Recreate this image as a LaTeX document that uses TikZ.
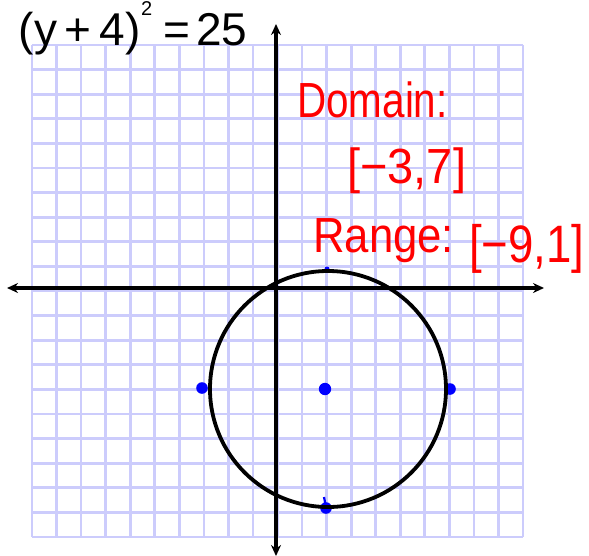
\documentclass[tikz,border=0pt]{standalone}
\usepackage{fontspec}
\setmainfont{Liberation Sans}
\usetikzlibrary{arrows.meta}
\definecolor{gridc}{RGB}{204,204,252}
\definecolor{redpen}{RGB}{255,0,0}
\definecolor{bluedot}{RGB}{0,0,255}
\begin{document}
\begin{tikzpicture}[x=1pt,y=-1pt,
  gridline/.style={draw=gridc,line width=2.7pt},
  axisline/.style={draw=black,line width=3.6pt,{Stealth[length=11pt,width=10pt]}-{Stealth[length=11pt,width=10pt]}},
  curve/.style={draw=black,line width=3.8pt},
  dot/.style={fill=bluedot},
  redtext/.style={text=redpen,inner sep=0pt,font=\fontsize{47}{47}\selectfont},
  blacktext/.style={text=black,inner sep=0pt,font=\fontsize{46}{46}\selectfont}]
\useasboundingbox (0,0) rectangle (589,555);
\clip (0,0) rectangle (589,555);
\fill[white] (0,0) rectangle (589,555);
% grid
\foreach \k in {0,...,20}{
  \draw[gridline] ({32+24.55*\k},45) -- ({32+24.55*\k},537);
  \draw[gridline] (32,{45+24.6*\k}) -- (523,{45+24.6*\k});
}
% axes
\coordinate (xl) at (7,288);
\coordinate (xr) at (544,288);
\coordinate (yt) at (276,24);
\coordinate (yb) at (276,556);
\draw[axisline] (xl) -- (xr);
\draw[axisline] (yb) -- (yt);
% points
\fill[dot] (325,389) circle[radius=6.2];
\fill[dot] (202,388) circle[radius=5.8];
\fill[dot] (450,389) circle[radius=5.8];
\fill[dot] (327,269) circle[radius=2.5];
\fill[dot] (326,508) circle[radius=5.8];
\draw[draw=bluedot,line width=2.2pt] (324,497) -- (326,507);
% circle
\draw[curve] (328,389) circle[radius=118];
% texts
\node[blacktext,anchor=base east] (eq) at (141,45) {(y\hspace{8pt}+\hspace{8pt}4)};
\node[blacktext,anchor=north west,font=\fontsize{20}{20}\selectfont] (sq) at (141,1) {2};
\node[blacktext,anchor=base west] (rhs) at (163,45) {=\hspace{6pt}25};
\node[redtext,anchor=base west] (dom) at (297,117) {\scalebox{0.86}[1.05]{Domain:}};
\node[redtext,anchor=base west] (domv) at (347,183) {\scalebox{1}[1.05]{[−3,7]}};
\node[redtext,anchor=base west] (rng) at (313,252) {\scalebox{0.93}[1.05]{Range:}};
\node[redtext,anchor=base west] (rngv) at (469,262) {\scalebox{0.97}[1.12]{[−9,1]}};
\end{tikzpicture}
\end{document}
